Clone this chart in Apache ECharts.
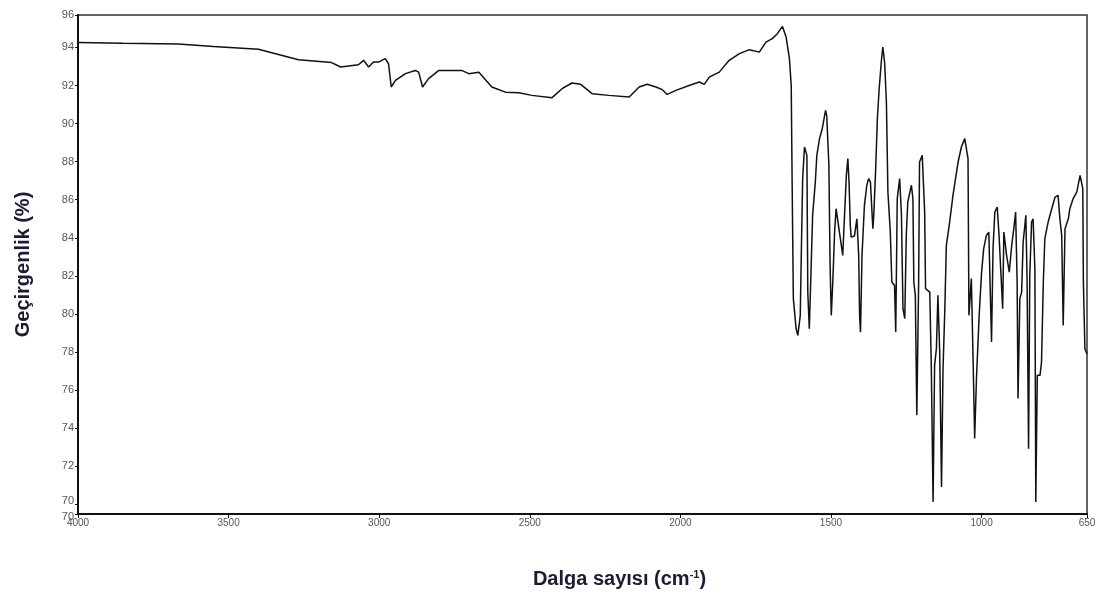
<!DOCTYPE html>
<html>
<head>
<meta charset="utf-8">
<title>IR</title>
<script src="https://cdn.jsdelivr.net/npm/echarts@6/dist/echarts.min.js"></script>
<style>
  html, body { margin: 0; padding: 0; background: #fff; }
  #ir-chart { width: 1103px; height: 599px; }
</style>
</head>
<body>
<div id="ir-chart"></div>
<script>
// dalga sayisi (cm-1) ve gecirgenlik (%)
var waveNumbers = [
  4000, 3850, 3667, 3550, 3401, 3268, 3158, 3128, 3069, 3052, 3035, 3019, 3002, 2980, 2969, 2960, 2946,
  2913, 2880, 2869, 2856, 2836, 2802, 2726, 2703, 2669, 2626, 2581, 2536, 2493, 2426, 2393,
  2360, 2331, 2293, 2237, 2170, 2137, 2110, 2081, 2060, 2044, 2015, 1971, 1937, 1921, 1904,
  1871, 1838, 1804, 1771, 1738, 1716, 1695, 1678, 1661, 1649, 1638, 1632, 1629, 1625, 1616,
  1610, 1602, 1599, 1594, 1588, 1580, 1577, 1572, 1566, 1561, 1552, 1547, 1538, 1529, 1518,
  1514, 1507, 1503, 1499, 1494, 1488, 1483, 1472, 1461, 1455, 1449, 1444, 1440, 1436, 1433,
  1422, 1414, 1408, 1405, 1402, 1397, 1389, 1381, 1375, 1369, 1361, 1358, 1352, 1346, 1340,
  1333, 1328, 1322, 1316, 1311, 1303, 1298, 1289, 1285, 1280, 1272, 1266, 1261, 1255, 1250,
  1245, 1233, 1228, 1225, 1220, 1215, 1209, 1206, 1197, 1189, 1186, 1172, 1167, 1161, 1156,
  1150, 1145, 1139, 1133, 1128, 1122, 1117, 1106, 1095, 1078, 1067, 1056, 1045, 1042, 1034,
  1028, 1023, 1017, 1008, 1000, 993, 984, 976, 967, 962, 956, 948, 942, 936, 930,
  926, 923, 917, 908, 900, 893, 887, 882, 879, 873, 867, 862, 853, 849, 844,
  840, 834, 829, 823, 820, 815, 806, 801, 795, 790, 779, 767, 756, 746, 740,
  734, 729, 723, 712, 707, 696, 684, 673, 664, 662, 657, 650
];
var transmittance = [
  94.26, 94.22, 94.18, 94.05, 93.9, 93.35, 93.2, 92.97, 93.09, 93.32, 92.97, 93.23, 93.23, 93.41, 93.14, 91.92, 92.27,
  92.62, 92.79, 92.7, 91.92, 92.36, 92.79, 92.79, 92.62, 92.7, 91.92, 91.65, 91.62, 91.48, 91.36, 91.83,
  92.13, 92.06, 91.57, 91.48, 91.39, 91.92, 92.06, 91.92, 91.78, 91.53, 91.74, 92.0, 92.18, 92.06, 92.44,
  92.7, 93.32, 93.67, 93.88, 93.75, 94.28, 94.46, 94.72, 95.1, 94.54, 93.41, 92.0, 86.93, 80.82, 79.25,
  78.88, 79.93, 82.73, 87.12, 88.77, 88.33, 81.15, 79.23, 82.38, 85.18, 86.93, 88.33, 89.21, 89.73, 90.69,
  90.4, 87.81, 82.56, 79.93, 81.68, 84.3, 85.53, 84.3, 83.08, 85.18, 87.28, 88.16, 86.9, 84.67, 84.04,
  84.1, 85.0, 83.08, 79.93, 79.05, 83.08, 85.7, 86.76, 87.11, 86.93, 84.48, 85.18, 87.45, 90.26, 91.83,
  93.23, 94.02, 93.23, 91.13, 86.4, 84.3, 81.68, 81.5, 79.05, 86.06, 87.11, 85.18, 80.28, 79.76, 84.13,
  85.88, 86.76, 86.06, 81.68, 80.98, 74.68, 81.68, 87.98, 88.33, 85.35, 81.33, 81.15, 77.3, 70.13, 77.3,
  78.18, 80.98, 78.0, 70.92, 77.13, 80.28, 83.6, 84.83, 86.23, 87.98, 88.77, 89.21, 88.16, 79.93, 81.86,
  77.48, 73.46, 76.61, 79.93, 82.2, 83.43, 84.13, 84.3, 78.53, 83.43, 85.35, 85.62, 84.13, 82.2, 80.28,
  84.3, 84.3, 83.08, 82.2, 83.6, 84.48, 85.35, 81.68, 75.56, 80.81, 81.15, 83.78, 85.18, 81.86, 72.93,
  82.03, 84.83, 85.0, 82.38, 70.13, 76.78, 76.78, 77.48, 81.68, 83.96, 84.83, 85.53, 86.14, 86.23, 85.0,
  84.13, 79.4, 84.48, 85.0, 85.53, 86.06, 86.4, 87.28, 86.58, 81.68, 78.18, 77.9
];
// eksen etiketleri
var xTickValues = [4000, 3500, 3000, 2500, 2000, 1500, 1000, 650];
var yTickValues = [69.5, 70, 72, 74, 76, 78, 80, 82, 84, 86, 88, 90, 92, 94, 95.7];

var seriesData = waveNumbers.map(function (w, i) {
  return [w, transmittance[i]];
});

var myChart = echarts.init(document.getElementById('ir-chart'));
var titleColor = '#1b1b36';
var option = {
  animation: false,
  grid: {
    left: 78,
    right: 16,
    top: 15,
    bottom: 85,
    show: true,
    borderColor: '#333',
    borderWidth: 1.5
  },
  xAxis: {
    type: 'value',
    min: 650,
    max: 4000,
    inverse: true,
    name: '{a|Dalga sayısı (cm}{s|-1}{a|)}',
    nameLocation: 'middle',
    nameGap: 55,
    nameTextStyle: {
      padding: [0, 0, 0, 74],
      rich: {
        a: { fontFamily: 'Liberation Sans, Arial', fontWeight: 'bold', fontSize: 20, color: titleColor },
        s: { fontFamily: 'Liberation Sans, Arial', fontWeight: 'bold', fontSize: 11, color: titleColor, padding: [0, 0, 10, 0] }
      }
    },
    axisLine: { lineStyle: { color: '#111', width: 2 } },
    axisTick: { length: 4, lineStyle: { color: '#111' }, customValues: xTickValues },
    axisLabel: {
      customValues: xTickValues,
      color: '#555',
      fontSize: 10,
      fontFamily: 'Liberation Sans, Arial',
      margin: 4,
      formatter: function (v) {
        return String(v);
      }
    },
    splitLine: { show: false }
  },
  yAxis: {
    type: 'value',
    min: 69.5,
    max: 95.7,
    name: 'Geçirgenlik (%)',
    nameLocation: 'middle',
    nameRotate: 90,
    nameGap: 45,
    nameTextStyle: {
      fontFamily: 'Liberation Sans, Arial',
      fontWeight: 'bold',
      fontSize: 20,
      color: titleColor
    },
    axisLine: { show: true, lineStyle: { color: '#111', width: 2 } },
    axisTick: { show: true, length: 3, lineStyle: { color: '#111' }, customValues: yTickValues },
    axisLabel: {
      customValues: yTickValues,
      color: '#555',
      fontSize: 11,
      fontFamily: 'Liberation Sans, Arial',
      margin: 4,
      formatter: function (v) {
        if (v < 70) return '{lo|70}';
        if (v == 70) return '{up|70}';
        return String(Math.round(v));
      },
      rich: {
        lo: { color: '#555', fontSize: 11, padding: [6, 0, 0, 0] },
        up: { color: '#555', fontSize: 11, padding: [0, 0, 8, 0] }
      }
    },
    splitLine: { show: false }
  },
  series: [
    {
      name: 'IR',
      type: 'line',
      showSymbol: false,
      data: seriesData,
      lineStyle: { color: '#111', width: 1.5 }
    }
  ]
};
myChart.setOption(option);
window.addEventListener('resize', function () {
  myChart.resize();
});
</script>
</body>
</html>
